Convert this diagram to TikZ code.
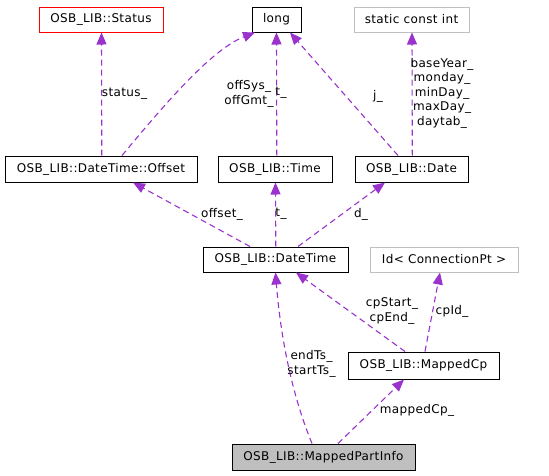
\documentclass[tikz,border=0pt]{standalone}
\usepackage{fontspec}
\setmainfont{DejaVu Sans}[LetterSpace=3]
\usetikzlibrary{arrows.meta}
\definecolor{edgec}{HTML}{9A32CD}
\definecolor{greyb}{HTML}{BFBFBF}
\begin{document}
\begin{tikzpicture}[x=1pt,y=-1pt,
  box/.style={draw=black,line width=1pt,inner sep=0pt,font=\fontsize{12}{14.5}\selectfont},
  redbox/.style={box,draw=red},
  greybox/.style={box,draw=greyb},
  fillbox/.style={box,fill=greyb},
  edge/.style={color=edgec,line width=1.1pt,dash pattern=on 6pt off 4pt,-{Triangle[length=12pt,width=10pt]}},
  lab/.style={inner sep=0pt,align=center,text=black,font=\fontsize{12}{14.5}\selectfont}]
\useasboundingbox (0,0) rectangle (549,475);
% nodes
\node[redbox,minimum width=124pt,minimum height=25pt] (status) at (101,19.5) {OSB\_LIB::Status};
\node[box,minimum width=49pt,minimum height=25pt] (long) at (276.5,19.5) {long};
\node[greybox,minimum width=115pt,minimum height=25pt] (sci) at (411.5,19.5) {static const int};
\node[box,minimum width=192pt,minimum height=26pt] (offset) at (101,169) {OSB\_LIB::DateTime::Offset};
\node[box,minimum width=114pt,minimum height=26pt] (time) at (275,169) {OSB\_LIB::Time};
\node[box,minimum width=113pt,minimum height=26pt] (date) at (411.5,169) {OSB\_LIB::Date};
\node[box,minimum width=145pt,minimum height=25pt] (datetime) at (275.5,259.5) {OSB\_LIB::DateTime};
\node[greybox,minimum width=148pt,minimum height=25pt] (idcp) at (444,259.5) {Id< ConnectionPt >};
\node[box,minimum width=151pt,minimum height=27pt] (mappedcp) at (423.5,365.5) {OSB\_LIB::MappedCp};
\node[fillbox,minimum width=183pt,minimum height=26pt] (mpi) at (323.5,457) {OSB\_LIB::MappedPartInfo};
% edges
\draw[edge] ([xshift=0.8pt]offset.north) -- ([xshift=0.5pt]status.south);
\draw[edge] ([xshift=21pt]offset.north) .. controls (160,110) and (210,50) .. ([xshift=-21.5pt]long.south);
\draw[edge] ([xshift=0.3pt]time.north -| long.south) -- (long.south);
\draw[edge] ([xshift=-13.5pt]date.north) -- ([xshift=13.5pt]long.south);
\draw[edge] ([xshift=0.8pt]date.north) -- ([xshift=0.5pt]sci.south);
\draw[edge] ([xshift=-25.5pt]datetime.north) -- ([xshift=32pt]offset.south);
\draw[edge] ([xshift=0.8pt]datetime.north -| time.south) -- ([xshift=0.5pt]time.south);
\draw[edge] ([xshift=22.5pt]datetime.north) -- ([xshift=-26.5pt]date.south);
\draw[edge] ([xshift=-18.5pt]mappedcp.north) -- ([xshift=20.5pt]datetime.south);
\draw[edge] ([xshift=1.5pt]mappedcp.north) -- ([xshift=-4pt]idcp.south);
\draw[edge] ([xshift=-11.5pt]mpi.north) .. controls (290,390) and (280,330) .. (datetime.south);
\draw[edge] ([xshift=14.5pt]mpi.north) -- ([xshift=-19.5pt]mappedcp.south);
% labels
\node[lab] (l1) at (124.5,94) {status\_};
\node[lab] (l2) at (249,94) {offSys\_\\offGmt\_};
\node[lab] (l3) at (281,93) {t\_};
\node[lab] (l4) at (378,96) {j\_};
\node[lab] (l5) at (442,93) {baseYear\_\\monday\_\\minDay\_\\maxDay\_\\daytab\_};
\node[lab] (l6) at (222,214) {offset\_};
\node[lab] (l7) at (281,214) {t\_};
\node[lab] (l8) at (361,214) {d\_};
\node[lab] (l9) at (392,311) {cpStart\_\\cpEnd\_};
\node[lab] (l10) at (452,311) {cpId\_};
\node[lab] (l11) at (311.5,364) {endTs\_\\startTs\_};
\node[lab] (l12) at (417,410) {mappedCp\_};
\end{tikzpicture}
\end{document}
